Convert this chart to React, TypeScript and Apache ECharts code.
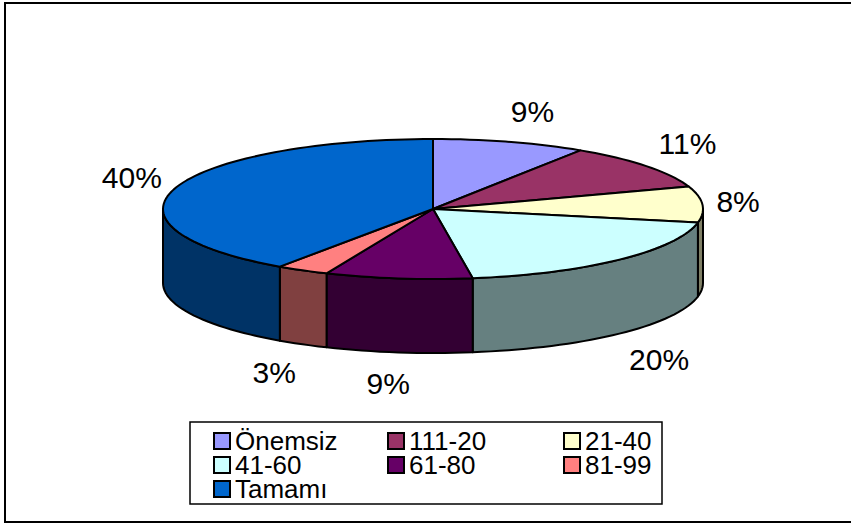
import React, { useEffect, useRef } from 'react';
import * as echarts from 'echarts';

const categories = ['Önemsiz', '111-20', '21-40', '41-60', '61-80', '81-99', 'Tamamı'];
// shares (labels show them rounded)
const values = [9.2, 10.6, 8.3, 19.55, 8.8, 3.15, 40.4];
const topColors = ['#9999FF', '#993366', '#FFFFCC', '#CCFFFF', '#660066', '#FF8080', '#0066CC'];
const legendColumns = [
  ['Önemsiz', '41-60', 'Tamamı'],
  ['111-20', '61-80'],
  ['21-40', '81-99'],
];

const FONT = '"Liberation Sans", Arial, sans-serif';

function darken(hex: string, f: number): string {
  const n = parseInt(hex.slice(1), 16);
  const r = Math.round(((n >> 16) & 255) * f);
  const g = Math.round(((n >> 8) & 255) * f);
  const b = Math.round((n & 255) * f);
  return 'rgb(' + r + ',' + g + ',' + b + ')';
}
const sideColors = topColors.map((c) => darken(c, 0.5));

const total = values.reduce((a, b) => a + b, 0);
const cum = values.map((_, i) => values.slice(0, i).reduce((a, b) => a + b, 0));

const CX = 433;
const CY = 209;
const RX = 270;
const RY = 70;
const DEPTH = 74;
const LA = 14;
const LB = 20;
const LABEL_SIZE = 30;

function pt(deg: number, dy: number): number[] {
  const r = (deg * Math.PI) / 180;
  return [CX + RX * Math.cos(r), CY - RY * Math.sin(r) + dy];
}
function arc(a: number, b: number, dy: number): number[][] {
  const n = Math.max(2, Math.ceil(Math.abs(a - b) / 2));
  const pts: number[][] = [];
  for (let k = 0; k <= n; k++) pts.push(pt(a + ((b - a) * k) / n, dy));
  return pts;
}
function clamp1(t: number): number {
  return Math.max(-1, Math.min(1, t));
}

function makeRender(i: number) {
  return (_params: any, api: any) => {
    const v = api.value(0);
    const s = 90 - (cum[i] / total) * 360;
    const e = 90 - ((cum[i] + v) / total) * 360;
    const children: any[] = [];
    const lo = Math.max(e, -180);
    const hi = Math.min(s, 0);
    if (hi > lo) {
      const top = arc(lo, hi, 0);
      const bottom = arc(hi, lo, DEPTH);
      children.push({
        type: 'polygon',
        shape: { points: top.concat(bottom) },
        style: { fill: sideColors[i], stroke: '#000', lineWidth: 2, lineJoin: 'round' },
      });
    }
    children.push({
      type: 'polygon',
      shape: { points: [[CX, CY]].concat(arc(s, e, 0)) },
      style: { fill: topColors[i], stroke: '#000', lineWidth: 2, lineJoin: 'round' },
    });
    const text = Math.round((v / total) * 100) + '%';
    const digits = text.length - 1;
    const hw = 0.5 * (0.556 * digits + 0.889) * LABEL_SIZE;
    const hh = 0.37 * LABEL_SIZE;
    const m = ((s + e) / 2) * (Math.PI / 180);
    const c = Math.cos(m);
    const sn = Math.sin(m);
    const lx = CX + (RX + LA) * c + hw * clamp1(c * 3);
    const ly = CY - (RY + LB) * sn - hh * clamp1(sn * 1.5) + (sn < 0 ? DEPTH : 0);
    children.push({
      type: 'text',
      x: lx,
      y: ly,
      style: {
        text,
        fontSize: LABEL_SIZE,
        fontFamily: FONT,
        fill: '#000',
        align: 'center',
        verticalAlign: 'middle',
      },
    });
    return { type: 'group', children };
  };
}

export default function App() {
  const ref = useRef<HTMLDivElement>(null);
  useEffect(() => {
    if (!ref.current) return;
    const chart = echarts.init(ref.current, null, { renderer: 'svg' });
    const legendLefts = [213, 387, 563];
    chart.setOption({
      animation: false,
      color: topColors,
      legend: legendColumns.map((col, j) => ({
        data: col,
        orient: 'vertical',
        left: legendLefts[j],
        top: 428,
        padding: 0,
        itemWidth: 16,
        itemHeight: 16,
        itemGap: -2,
        icon: 'rect',
        selectedMode: false,
        itemStyle: { borderColor: '#000', borderWidth: 2 },
        textStyle: { fontSize: 26, fontFamily: FONT, color: '#000', lineHeight: 23.5 },
      })),
      graphic: [
        {
          type: 'rect',
          shape: { x: 5, y: 3, width: 900, height: 519 },
          style: { fill: 'none', stroke: '#000', lineWidth: 2 },
          silent: true,
        },
        {
          type: 'rect',
          shape: { x: 190, y: 422, width: 472, height: 82 },
          style: { fill: 'none', stroke: '#000', lineWidth: 1.5 },
          silent: true,
        },
      ],
      series: categories.map((name, i) => ({
        type: 'custom',
        name,
        coordinateSystem: 'none',
        itemStyle: { color: topColors[i] },
        renderItem: makeRender(i),
        data: [[values[i]]],
      })),
    });
    return () => chart.dispose();
  }, []);
  return (
    <div
      ref={ref}
      style={{ position: 'absolute', left: 0, top: 0, width: 851, height: 525, background: '#fff' }}
    />
  );
}
